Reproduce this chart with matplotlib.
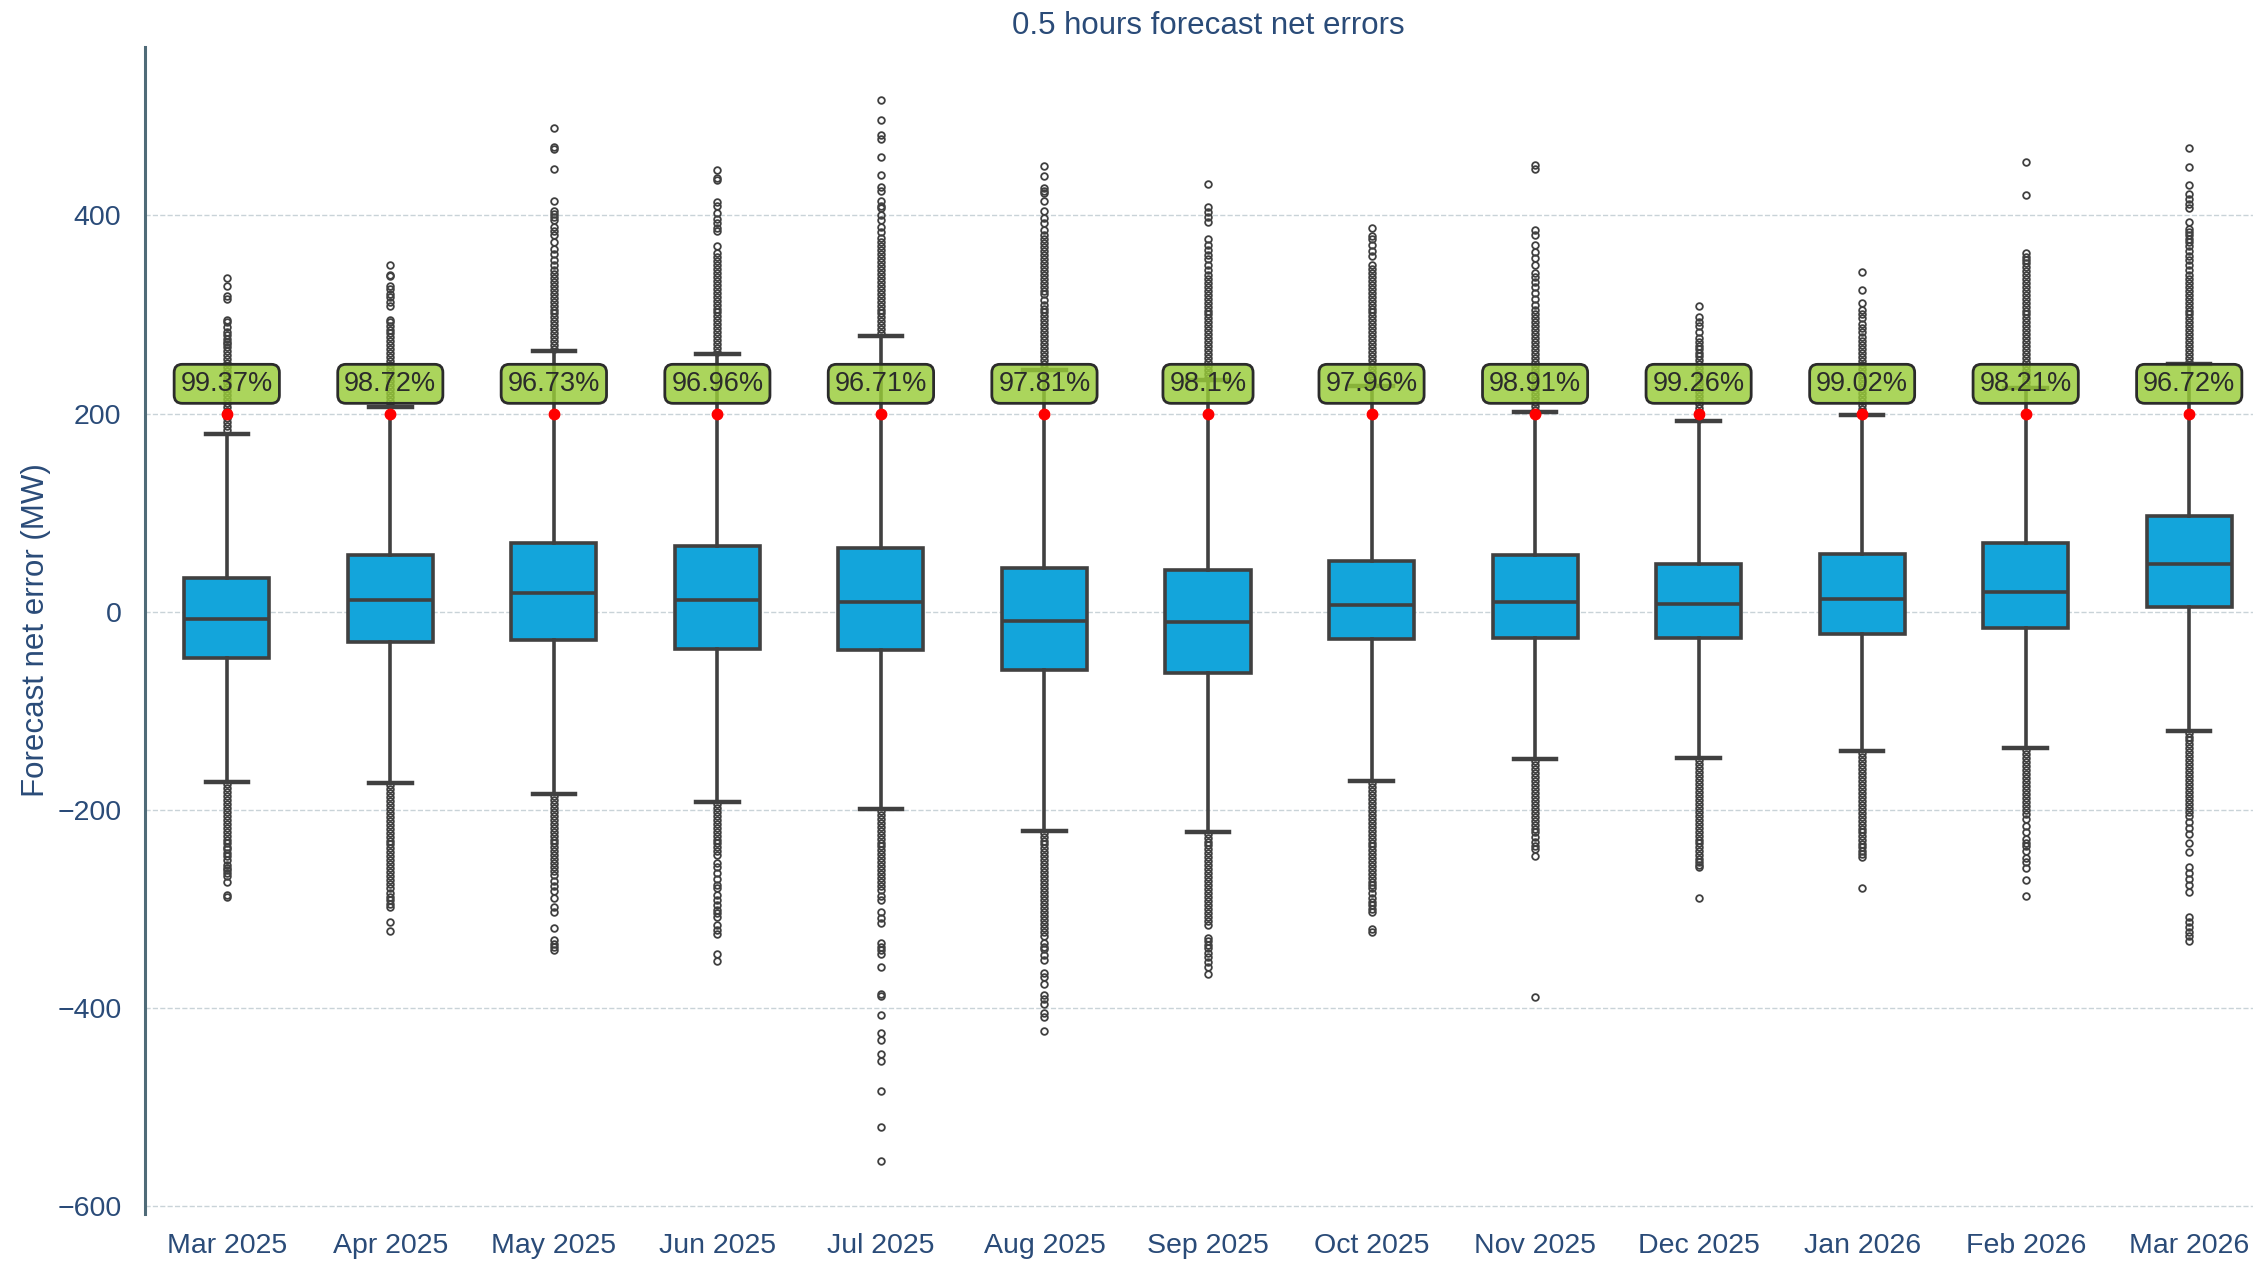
import matplotlib
matplotlib.use("Agg")
import matplotlib.pyplot as plt

plt.rcParams['font.family'] = ['Liberation Sans', 'DejaVu Sans']

months = ['Mar 2025', 'Apr 2025', 'May 2025', 'Jun 2025', 'Jul 2025', 'Aug 2025', 'Sep 2025',
          'Oct 2025', 'Nov 2025', 'Dec 2025', 'Jan 2026', 'Feb 2026', 'Mar 2026']
q1 = [-47, -31, -29, -38, -39, -59, -62, -28, -27, -27, -23, -16, 5]
median = [-7, 12, 19, 12, 10, -9, -10, 7, 10, 8, 13, 20, 48]
q3 = [34, 57, 69, 66, 64, 44, 42, 51, 57, 48, 58, 69, 97]
whisker_low = [-172, -173, -184, -192, -199, -221, -222, -171, -149, -148, -141, -138, -120]
whisker_high = [179, 207, 263, 260, 278, 244, 234, 228, 202, 192, 199, 226, 250]
within_pct = ['99.37%', '98.72%', '96.73%', '96.96%', '96.71%', '97.81%', '98.1%',
              '97.96%', '98.91%', '99.26%', '99.02%', '98.21%', '96.72%']
threshold = [200] * 13
label_y = [230] * 13

# outliers
hi_01 = [183, 187, 191, 195, 199, 203, 207, 211, 215, 219, 223, 227, 231, 235, 239, 243, 247, 251, 255,
         259, 263, 267, 270, 272, 275, 279, 282, 287, 292, 294, 316, 319, 329, 337]
lo_01 = [-174, -178, -182, -186, -190, -194, -198, -202, -206, -210, -214, -218, -222, -226, -230, -234,
         -238, -240, -244, -247, -251, -256, -259, -261, -264, -267, -273, -286, -288]
hi_02 = [209, 213, 217, 221, 225, 229, 233, 237, 241, 245, 249, 253, 257, 261, 265, 269, 273, 277, 281,
         284, 288, 292, 294, 309, 313, 318, 321, 326, 329, 339, 340, 350]
lo_02 = [-175, -179, -183, -187, -191, -195, -199, -203, -207, -211, -215, -219, -223, -227, -231, -235,
         -239, -243, -247, -251, -255, -259, -263, -267, -271, -275, -279, -284, -288, -291, -295, -298,
         -313, -322]
hi_03 = [265, 269, 273, 277, 281, 285, 289, 293, 297, 301, 305, 309, 313, 317, 321, 325, 329, 333, 337,
         341, 345, 350, 355, 361, 366, 373, 380, 384, 388, 395, 398, 401, 404, 415, 447, 467, 469, 488]
lo_03 = [-186, -190, -194, -198, -202, -206, -210, -214, -218, -222, -226, -230, -234, -238, -242, -246,
         -250, -254, -258, -262, -266, -272, -277, -282, -289, -298, -303, -319, -331, -335, -338, -342]
hi_04 = [262, 266, 270, 274, 278, 282, 286, 290, 294, 298, 302, 306, 310, 314, 318, 322, 326, 330, 334,
         338, 342, 346, 350, 354, 358, 362, 369, 384, 387, 392, 396, 402, 409, 414, 436, 438, 446]
lo_04 = [-194, -198, -202, -206, -210, -214, -218, -222, -226, -230, -234, -238, -242, -246, -254, -258,
         -264, -270, -276, -279, -286, -291, -296, -301, -304, -308, -316, -321, -325, -346, -353]
hi_05 = [281, 285, 289, 293, 297, 301, 305, 309, 313, 317, 321, 325, 329, 333, 337, 341, 345, 349, 353,
         357, 361, 365, 369, 373, 377, 383, 388, 395, 400, 407, 410, 415, 425, 429, 441, 459, 477, 481,
         496, 517]
lo_05 = [-201, -205, -209, -213, -217, -221, -225, -229, -233, -237, -241, -245, -249, -253, -257, -261,
         -265, -269, -273, -277, -281, -287, -291, -303, -309, -314, -334, -338, -342, -346, -359, -386,
         -388, -407, -425, -432, -446, -454, -484, -520, -554]
hi_06 = [246, 250, 254, 258, 262, 266, 270, 274, 278, 282, 286, 290, 294, 298, 302, 306, 310, 315, 321,
         324, 328, 332, 336, 340, 344, 348, 352, 356, 360, 364, 368, 372, 376, 380, 385, 392, 397, 404,
         415, 423, 425, 428, 440, 450]
lo_06 = [-223, -227, -231, -235, -239, -243, -247, -251, -255, -259, -263, -267, -271, -275, -279, -283,
         -287, -291, -295, -299, -303, -307, -311, -315, -319, -323, -327, -334, -338, -341, -347, -352,
         -365, -369, -376, -387, -391, -396, -405, -409, -423]
hi_07 = [236, 240, 244, 248, 252, 256, 260, 264, 268, 272, 276, 280, 284, 288, 292, 296, 300, 304, 308,
         312, 316, 320, 324, 328, 332, 336, 340, 345, 350, 356, 360, 365, 370, 376, 393, 398, 403, 408, 432]
lo_07 = [-224, -228, -232, -236, -240, -244, -248, -252, -256, -260, -264, -268, -272, -276, -280, -284,
         -288, -292, -296, -300, -304, -308, -312, -316, -329, -332, -336, -339, -345, -349, -354, -359,
         -366]
hi_08 = [230, 234, 238, 242, 246, 250, 254, 258, 262, 266, 270, 274, 278, 282, 286, 290, 294, 298, 302,
         306, 310, 314, 318, 322, 326, 330, 334, 338, 342, 346, 350, 359, 364, 370, 376, 379, 387]
lo_08 = [-173, -177, -181, -185, -189, -193, -197, -201, -205, -209, -213, -217, -221, -225, -229, -233,
         -237, -241, -245, -249, -253, -257, -261, -265, -269, -273, -276, -279, -284, -289, -293, -296,
         -300, -303, -320, -323]
hi_09 = [204, 208, 212, 216, 220, 224, 228, 232, 236, 240, 244, 248, 252, 256, 260, 264, 268, 272, 276,
         280, 284, 288, 292, 296, 300, 305, 310, 316, 322, 328, 333, 338, 342, 350, 357, 363, 370, 380,
         385, 447, 451]
lo_09 = [-151, -155, -159, -163, -167, -171, -175, -179, -183, -187, -191, -195, -199, -203, -207, -211,
         -215, -219, -222, -227, -232, -237, -240, -247, -389]
hi_10 = [194, 198, 202, 206, 210, 214, 218, 222, 226, 230, 234, 238, 242, 246, 250, 254, 258, 261, 265,
         268, 272, 276, 282, 288, 292, 297, 309]
lo_10 = [-150, -154, -158, -162, -166, -170, -174, -178, -182, -186, -190, -194, -198, -202, -206, -210,
         -214, -218, -222, -226, -230, -234, -238, -242, -246, -250, -253, -256, -258, -289]
hi_11 = [201, 205, 209, 213, 217, 221, 225, 229, 233, 237, 241, 245, 249, 253, 257, 261, 265, 269, 273,
         277, 282, 286, 290, 296, 300, 305, 312, 325, 343]
lo_11 = [-143, -147, -151, -155, -159, -163, -167, -171, -175, -179, -183, -187, -191, -195, -199, -203,
         -207, -211, -215, -219, -222, -226, -230, -235, -238, -242, -245, -248, -279]
hi_12 = [228, 232, 236, 240, 244, 248, 252, 256, 260, 264, 268, 272, 276, 280, 284, 288, 292, 296, 300,
         304, 308, 312, 316, 320, 324, 328, 332, 336, 340, 344, 348, 352, 355, 358, 362, 421, 454]
lo_12 = [-140, -144, -148, -152, -156, -160, -164, -168, -172, -176, -180, -184, -188, -192, -196, -200,
         -204, -209, -216, -222, -229, -234, -237, -242, -249, -253, -259, -271, -287]
hi_13 = [252, 256, 260, 264, 268, 272, 276, 280, 284, 288, 292, 296, 300, 304, 308, 312, 316, 320, 324,
         328, 332, 336, 340, 345, 350, 355, 359, 364, 369, 373, 376, 380, 383, 386, 393, 407, 412, 417,
         422, 431, 449, 468]
lo_13 = [-122, -126, -130, -134, -138, -142, -146, -150, -154, -158, -162, -166, -170, -174, -178, -182,
         -186, -190, -194, -198, -202, -206, -212, -218, -224, -233, -243, -258, -264, -270, -276, -283,
         -308, -313, -318, -323, -327, -332]

upper_fliers = [hi_01, hi_02, hi_03, hi_04, hi_05, hi_06, hi_07, hi_08, hi_09, hi_10, hi_11, hi_12, hi_13]
lower_fliers = [lo_01, lo_02, lo_03, lo_04, lo_05, lo_06, lo_07, lo_08, lo_09, lo_10, lo_11, lo_12, lo_13]

BOX_C = '#13A5DB'
LINE_C = '#404040'
TEXT_C = '#2A4B78'

W, H = 2253, 1261
fig = plt.figure(figsize=(W / 100, H / 100), dpi=100)
ax = fig.add_axes([145 / W, 1 - 1214 / H, (2271 - 145) / W, (1214 - 47) / H])

stats = []
for i, m in enumerate(months):
    stats.append(dict(label=m, q1=q1[i], med=median[i], q3=q3[i],
                      whislo=whisker_low[i], whishi=whisker_high[i],
                      fliers=list(upper_fliers[i]) + list(lower_fliers[i])))

positions = list(range(len(months)))
lw = 2.6
ax.bxp(stats, positions=positions, widths=0.52, capwidths=0.26, patch_artist=True,
       boxprops=dict(facecolor=BOX_C, edgecolor=LINE_C, linewidth=lw),
       whiskerprops=dict(color=LINE_C, linewidth=lw),
       capprops=dict(color=LINE_C, linewidth=lw + 0.6),
       medianprops=dict(color=LINE_C, linewidth=lw),
       flierprops=dict(marker='o', markerfacecolor='none', markeredgecolor=LINE_C,
                       markersize=4.8, markeredgewidth=1.3, linestyle='none'),
       manage_ticks=False, zorder=2)

ax.plot(positions, threshold, 'o', color='red', markersize=7.5, linestyle='none', zorder=4)

for i, txt in enumerate(within_pct):
    ax.text(positions[i], label_y[i], txt, ha='center', va='center', fontsize=19.5, color='#2b2b2b',
            zorder=5,
            bbox=dict(boxstyle='round,pad=0.24,rounding_size=0.3', facecolor=(0.60, 0.80, 0.22, 0.82),
                      edgecolor='#2b2b2b', linewidth=2.0))

ax.set_xlim(-0.5, 12.5)
ax.set_ylim(-608, 570)
ax.set_xticks(positions)
ax.set_xticklabels(months)
ax.set_yticks([-600, -400, -200, 0, 200, 400])

ax.yaxis.grid(True, linestyle='--', color='#c9d3d8', linewidth=1.0)
ax.xaxis.grid(False)
ax.set_axisbelow(True)

for s in ['top', 'right', 'bottom']:
    ax.spines[s].set_visible(False)
ax.spines['left'].set_color('#4F6B78')
ax.spines['left'].set_linewidth(2.2)

ax.tick_params(axis='both', length=0, labelsize=20.5, labelcolor=TEXT_C)
ax.tick_params(axis='x', pad=14)
ax.tick_params(axis='y', pad=17)

ax.set_ylabel('Forecast net error (MW)', fontsize=22.5, color=TEXT_C)
ax.yaxis.set_label_coords(-0.044, 0.5)
ax.set_title('0.5 hours forecast net errors', fontsize=22.5, color=TEXT_C, pad=9)

fig.savefig('out.png', dpi=100)
